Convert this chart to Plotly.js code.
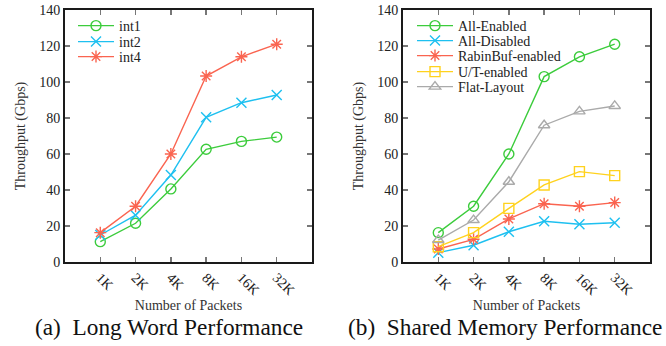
<!DOCTYPE html>
<html>
<head>
<meta charset="utf-8">
<script src="https://cdn.plot.ly/plotly-3.0.1.min.js"></script>
<style>
  html, body { margin: 0; padding: 0; background: #fff; }
  #chart { width: 666px; height: 346px; }
</style>
</head>
<body>
<div id="chart"></div>
<script>
// ---- data ----
const categories = ['1K', '2K', '4K', '8K', '16K', '32K'];

// (a) Long Word Performance
const int1 = [11.3, 21.5, 40.6, 62.6, 67.0, 69.4];
const int2 = [15.0, 26.0, 48.3, 80.4, 88.5, 92.8];
const int4 = [16.3, 31.0, 60.0, 103.3, 114.0, 121.0];

// (b) Shared Memory Performance
const allEnabled = [16.3, 31.0, 60.0, 103.0, 114.0, 121.0];
const allDisabled = [5.2, 9.3, 16.8, 22.6, 21.0, 21.8];
const rabinBuf = [7.2, 12.6, 23.9, 32.4, 31.0, 33.0];
const utEnabled = [8.5, 16.3, 29.8, 42.8, 50.2, 48.0];
const flatLayout = [12.2, 23.3, 44.6, 76.0, 83.7, 86.7];

const yTicks = [0, 20, 40, 60, 80, 100, 120, 140];

// ---- styling ----
const GREEN = '#3ccc3c', BLUE = '#1ec0f0', RED = '#fa6450', YELLOW = '#ffd21e', GRAY = '#aaaaaa';
const SERIF = 'Liberation Serif, Times New Roman, serif';
const W = 666, H = 346;
const px = v => v / W;
const py = v => 1 - v / H;

function tr(name, y, color, symbol, xa, ya, legend) {
  return {
    type: 'scatter', mode: 'lines+markers', name: name,
    x: categories, y: y, xaxis: xa, yaxis: ya, legend: legend,
    line: { color: color, width: 1.4 },
    marker: { symbol: symbol, size: 10, color: color, line: { color: color, width: 1.4 } },
    cliponaxis: false
  };
}

const data = [
  tr('int1', int1, GREEN, 'circle-open', 'x', 'y', 'legend'),
  tr('int2', int2, BLUE, 'x-thin-open', 'x', 'y', 'legend2'),
  tr('int4', int4, RED, 'asterisk-open', 'x', 'y', 'legend3'),
  tr('All-Enabled', allEnabled, GREEN, 'circle-open', 'x2', 'y2', 'legend4'),
  tr('All-Disabled', allDisabled, BLUE, 'x-thin-open', 'x2', 'y2', 'legend5'),
  tr('RabinBuf-enabled', rabinBuf, RED, 'asterisk-open', 'x2', 'y2', 'legend6'),
  tr('U/T-enabled', utEnabled, YELLOW, 'square-open', 'x2', 'y2', 'legend7'),
  tr('Flat-Layout', flatLayout, GRAY, 'triangle-up-open', 'x2', 'y2', 'legend8')
];

function xaxis(domain, anchor) {
  return {
    domain: domain, anchor: anchor, type: 'category', range: [-1, 6],
    showline: true, linecolor: '#1a1a1a', linewidth: 2, mirror: 'ticks',
    ticks: 'inside', ticklen: 5, tickwidth: 1.5, tickcolor: '#777',
    tickangle: 45, showgrid: false, zeroline: false,
    tickfont: { family: SERIF, size: 14, color: '#222' },
    title: { text: 'Number of Packets', font: { family: SERIF, size: 14, color: '#333' }, standoff: 0 },
    fixedrange: true
  };
}
function yaxis(anchor) {
  return {
    domain: [py(262), py(10)], anchor: anchor, range: [0, 140],
    tickvals: yTicks, ticktext: yTicks.map(String),
    showline: true, linecolor: '#1a1a1a', linewidth: 2, mirror: 'ticks',
    ticks: 'inside', ticklen: 5, tickwidth: 1.5, tickcolor: '#777',
    showgrid: false, zeroline: false,
    tickfont: { family: SERIF, size: 14, color: '#222' },
    ticklabelstandoff: 0,
    title: { text: 'Throughput (Gbps)', font: { family: SERIF, size: 14, color: '#333' }, standoff: 10 },
    fixedrange: true
  };
}

function leg(x, y) {
  return {
    x: px(x), y: py(y), xanchor: 'left', yanchor: 'middle',
    bgcolor: 'rgba(0,0,0,0)', borderwidth: 0,
    font: { family: SERIF, size: 14, color: '#222' },
    itemwidth: 36
  };
}

const layout = {
  width: W, height: H,
  margin: { l: 0, r: 0, t: 0, b: 0 },
  paper_bgcolor: '#fff', plot_bgcolor: '#fff',
  showlegend: true,
  xaxis: xaxis([px(65), px(312)], 'y'),
  yaxis: yaxis('x'),
  xaxis2: xaxis([px(403), px(650)], 'y2'),
  yaxis2: yaxis('x2'),
  legend: leg(73, 26),
  legend2: leg(73, 42),
  legend3: leg(73, 57),
  legend4: leg(412, 26),
  legend5: leg(412, 41),
  legend6: leg(412, 56),
  legend7: leg(412, 72),
  legend8: leg(412, 87),
  annotations: [
    { text: '(a)  Long Word Performance', xref: 'paper', yref: 'paper', x: px(168.5), y: py(327),
      xanchor: 'center', yanchor: 'middle', showarrow: false,
      font: { family: SERIF, size: 23.3, color: '#111' } },
    { text: '(b)  Shared Memory Performance', xref: 'paper', yref: 'paper', x: px(505), y: py(327),
      xanchor: 'center', yanchor: 'middle', showarrow: false,
      font: { family: SERIF, size: 23.3, color: '#111' } }
  ]
};

Plotly.newPlot('chart', data, layout, { displayModeBar: false, staticPlot: true });
</script>
</body>
</html>
